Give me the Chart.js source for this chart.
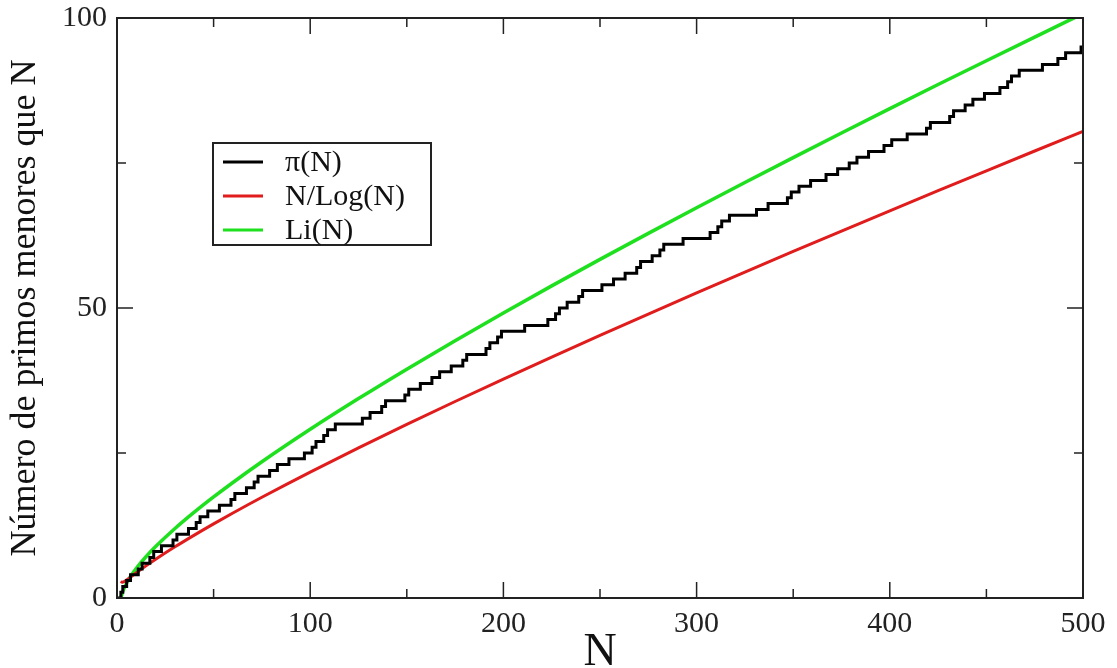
<!DOCTYPE html>
<html>
<head>
<meta charset="utf-8">
<script src="https://cdn.jsdelivr.net/npm/chart.js@4.4.1/dist/chart.umd.min.js"></script>
<style>
  html, body { margin: 0; padding: 0; background: #fff; }
</style>
</head>
<body>
<canvas id="primes" width="1117" height="668"></canvas>
<script>
// primos menores que 500 y el valor de pi(N) en cada uno
const primes = [2, 3, 5, 7, 11, 13, 17, 19, 23, 29, 31, 37, 41, 43, 47, 53, 59, 61, 67, 71, 73, 79, 83, 89, 97,
  101, 103, 107, 109, 113, 127, 131, 137, 139, 149, 151, 157, 163, 167, 173, 179, 181, 191, 193, 197, 199,
  211, 223, 227, 229, 233, 239, 241, 251, 257, 263, 269, 271, 277, 281, 283, 293,
  307, 311, 313, 317, 331, 337, 347, 349, 353, 359, 367, 373, 379, 383, 389, 397,
  401, 409, 419, 421, 431, 433, 439, 443, 449, 457, 461, 463, 467, 479, 487, 491, 499];
const primeCount = [1, 2, 3, 4, 5, 6, 7, 8, 9, 10, 11, 12, 13, 14, 15, 16, 17, 18, 19, 20, 21, 22, 23, 24, 25,
  26, 27, 28, 29, 30, 31, 32, 33, 34, 35, 36, 37, 38, 39, 40, 41, 42, 43, 44, 45, 46,
  47, 48, 49, 50, 51, 52, 53, 54, 55, 56, 57, 58, 59, 60, 61, 62,
  63, 64, 65, 66, 67, 68, 69, 70, 71, 72, 73, 74, 75, 76, 77, 78,
  79, 80, 81, 82, 83, 84, 85, 86, 87, 88, 89, 90, 91, 92, 93, 94, 95];

// curvas suaves
const curveN   = [2, 2.5, 3, 4, 5, 7, 10, 15, 20, 30, 40, 50, 60, 75, 100, 125, 150, 175, 200, 225, 250, 275, 300, 325, 350, 375, 400, 425, 450, 475, 500];
const nOverLog = [2.885, 2.728, 2.731, 2.885, 3.107, 3.597, 4.343, 5.539, 6.676, 8.820, 10.843, 12.781, 14.654, 17.371, 21.715,
  25.889, 29.936, 33.882, 37.748, 41.543, 45.278, 48.960, 52.597, 56.191, 59.749, 63.271, 66.761, 70.224, 73.659, 77.069, 80.455];
const liValues = [0, 0.622, 1.118, 1.922, 2.589, 3.712, 5.120, 7.109, 8.860, 11.977, 14.795, 17.424, 19.920, 23.484, 29.081,
  34.378, 39.457, 44.370, 49.147, 53.814, 58.384, 62.873, 67.289, 71.642, 75.936, 80.179, 84.373, 88.525, 92.636, 96.710, 100.749];

const xMajor = [0, 100, 200, 300, 400, 500];
const xMinor = [50, 150, 250, 350, 450];
const yMajor = [0, 50, 100];
const yMinor = [25, 75];

const SERIF = '"Liberation Serif", "DejaVu Serif", serif';

const piData = [{ x: 0, y: 0 }].concat(primes.map((p, i) => ({ x: p, y: primeCount[i] })));
piData.push({ x: 500, y: primeCount[primeCount.length - 1] });

// marco completo, marcas hacia dentro y leyenda dentro del area
const framePlugin = {
  id: 'frame',
  afterDraw(chart) {
    const { ctx, chartArea: a, scales } = chart;
    ctx.save();
    ctx.strokeStyle = '#222';
    ctx.lineWidth = 2;
    ctx.strokeRect(a.left, a.top, a.right - a.left, a.bottom - a.top);

    ctx.lineWidth = 1.5;
    const tickX = (vals, len) => vals.forEach(v => {
      const px = scales.x.getPixelForValue(v);
      ctx.beginPath();
      ctx.moveTo(px, a.bottom); ctx.lineTo(px, a.bottom - len);
      ctx.moveTo(px, a.top); ctx.lineTo(px, a.top + len);
      ctx.stroke();
    });
    const tickY = (vals, len) => vals.forEach(v => {
      const py = scales.y.getPixelForValue(v);
      ctx.beginPath();
      ctx.moveTo(a.left, py); ctx.lineTo(a.left + len, py);
      ctx.moveTo(a.right, py); ctx.lineTo(a.right - len, py);
      ctx.stroke();
    });
    tickX(xMajor, 16); tickX(xMinor, 9);
    tickY(yMajor, 16); tickY(yMinor, 9);

    // leyenda
    const box = { x: 213, y: 143, w: 218, h: 102 };
    ctx.lineWidth = 2;
    ctx.strokeStyle = '#222';
    ctx.strokeRect(box.x, box.y, box.w, box.h);
    ctx.font = '30px ' + SERIF;
    ctx.textBaseline = 'middle';
    ctx.fillStyle = '#111';
    chart.data.datasets.forEach((ds, i) => {
      const y = box.y + 19 + i * 34;
      ctx.strokeStyle = ds.borderColor;
      ctx.lineWidth = 3;
      ctx.beginPath();
      ctx.moveTo(box.x + 10, y); ctx.lineTo(box.x + 50, y);
      ctx.stroke();
      ctx.fillText(ds.label, box.x + 72, y + 1);
    });
    ctx.restore();
  }
};

new Chart(document.getElementById('primes'), {
  type: 'line',
  data: {
    datasets: [
      { label: 'π(N)', data: piData, borderColor: '#000000', borderWidth: 3, stepped: 'before', pointRadius: 0 },
      { label: 'N/Log(N)', data: curveN.map((n, i) => ({ x: n, y: nOverLog[i] })), borderColor: '#e01c1c',
        borderWidth: 3, cubicInterpolationMode: 'monotone', pointRadius: 0 },
      { label: 'Li(N)', data: curveN.map((n, i) => ({ x: n, y: liValues[i] })), borderColor: '#1ee01e',
        borderWidth: 3.5, cubicInterpolationMode: 'monotone', pointRadius: 0 }
    ]
  },
  options: {
    responsive: false,
    animation: false,
    devicePixelRatio: 1,
    layout: { padding: { top: 18, right: 34, left: 0, bottom: 0 } },
    plugins: { legend: { display: false }, tooltip: { enabled: false } },
    scales: {
      x: {
        type: 'linear', min: 0, max: 500,
        grid: { display: false }, border: { display: false },
        ticks: { stepSize: 100, color: '#222', padding: 0, font: { family: SERIF, size: 30 }, maxRotation: 0 },
        title: { display: true, text: 'N', color: '#111', font: { family: SERIF, size: 46, lineHeight: 0.65 }, padding: 0 },
        afterFit(s) { s.height = 70; s.paddingLeft = 0; s.paddingRight = 0; }
      },
      y: {
        min: 0, max: 100,
        grid: { display: false }, border: { display: false },
        ticks: { stepSize: 50, color: '#222', padding: 2, font: { family: SERIF, size: 30 } },
        title: { display: true, text: 'Número de primos menores que N', color: '#111',
          font: { family: SERIF, size: 36, lineHeight: 1 }, padding: { top: 8, bottom: 0 } },
        afterFit(s) { s.width = 117; s.paddingTop = 0; s.paddingBottom = 0; }
      }
    }
  },
  plugins: [framePlugin]
});
</script>
</body>
</html>
